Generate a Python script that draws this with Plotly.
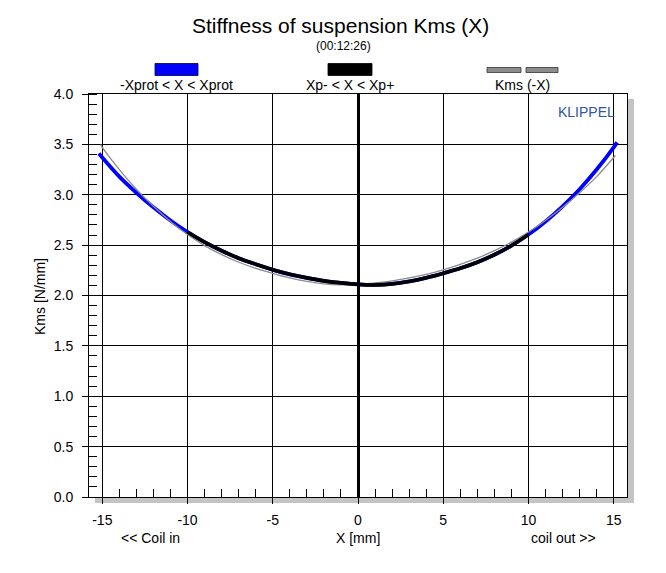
import plotly.graph_objects as go

# ---- data ----
x_blue = [-15.2, -15, -14, -13, -12, -11, -10, -9, -8, -7, -6, -5, -4, -3, -2, -1,
          0, 1, 2, 3, 4, 5, 6, 7, 8, 9, 10, 11, 12, 13, 14, 15, 15.2]
kms_blue = [3.41, 3.37, 3.18, 3.02, 2.875, 2.745, 2.63, 2.53, 2.445, 2.37, 2.31, 2.255,
            2.21, 2.175, 2.145, 2.125, 2.11, 2.105, 2.115, 2.14, 2.175, 2.22, 2.27, 2.33,
            2.405, 2.495, 2.605, 2.735, 2.885, 3.055, 3.25, 3.47, 3.52]

x_gray = [-15.1, -15, -14, -13, -12, -11, -10, -9, -8, -7, -6, -5, -4, -3, -2, -1,
          0, 1, 2, 3, 4, 5, 6, 7, 8, 9, 10, 11, 12, 13, 14, 15, 15.1]
kms_gray = [3.50, 3.47, 3.25, 3.055, 2.885, 2.735, 2.605, 2.495, 2.405, 2.33, 2.27, 2.22,
            2.175, 2.14, 2.115, 2.105, 2.11, 2.125, 2.145, 2.175, 2.21, 2.255, 2.31, 2.37,
            2.445, 2.53, 2.63, 2.745, 2.875, 3.02, 3.18, 3.37, 3.39]

xp_limit = 10.0  # Xp- .. Xp+

x_ticks = [-15, -10, -5, 0, 5, 10, 15]
y_ticks = [0.0, 0.5, 1.0, 1.5, 2.0, 2.5, 3.0, 3.5, 4.0]

title = "Stiffness of suspension Kms (X)"
subtitle = "(00:12:26)"
legend_labels = ["-Xprot < X < Xprot", "Xp- < X < Xp+", "Kms (-X)"]

# ---- figure ----
FONT = "Liberation Sans, Arial, sans-serif"
W, H = 666, 573
L, R, T, B = 89, 627, 94, 497  # plot area in pixels


def px(xp):
    return (xp - L) / (R - L)


def py(yp):
    return (B - yp) / (B - T)


x_black = [x for x in x_blue if abs(x) <= xp_limit]
k_black = [k for x, k in zip(x_blue, kms_blue) if abs(x) <= xp_limit]

fig = go.Figure()
fig.add_trace(go.Scatter(x=x_blue, y=kms_blue, mode="lines",
                         line=dict(color="#0000ff", width=3.8, shape="spline", smoothing=1.0),
                         showlegend=False))
fig.add_trace(go.Scatter(x=x_gray, y=kms_gray, mode="lines",
                         line=dict(color="#8c8c8c", width=1.3, shape="spline", smoothing=1.0),
                         showlegend=False))
fig.add_trace(go.Scatter(x=x_black, y=k_black, mode="lines",
                         line=dict(color="#000000", width=3.6, shape="spline", smoothing=1.0),
                         showlegend=False))

shapes = []
# drop shadow of the plot frame
shapes.append(dict(type="rect", xref="paper", yref="paper", layer="below",
                   x0=1.0, x1=px(634), y0=py(503), y1=py(99),
                   fillcolor="#c4c4c4", line=dict(width=0)))
shapes.append(dict(type="rect", xref="paper", yref="paper", layer="below",
                   x0=px(95), x1=px(634), y0=py(503), y1=0.0,
                   fillcolor="#c4c4c4", line=dict(width=0)))
# legend swatches
shapes.append(dict(type="rect", xref="paper", yref="paper",
                   x0=px(155), x1=px(198), y0=py(75.5), y1=py(63.5),
                   fillcolor="#0000ff", line=dict(color="#000040", width=0.8)))
shapes.append(dict(type="rect", xref="paper", yref="paper",
                   x0=px(328), x1=px(372), y0=py(75.5), y1=py(63.5),
                   fillcolor="#000000", line=dict(color="#000000", width=0.8)))
shapes.append(dict(type="rect", xref="paper", yref="paper",
                   x0=px(487), x1=px(521), y0=py(72.5), y1=py(67.5),
                   fillcolor="#8c8c8c", line=dict(color="#333333", width=0.8)))
shapes.append(dict(type="rect", xref="paper", yref="paper",
                   x0=px(526), x1=px(558), y0=py(72.5), y1=py(67.5),
                   fillcolor="#8c8c8c", line=dict(color="#333333", width=0.8)))


def note(text, xp, yp, size=14, color="black", xanchor="center", angle=0):
    return dict(text=text, x=px(xp), y=py(yp), xref="paper", yref="paper",
                showarrow=False, textangle=angle,
                font=dict(size=size, color=color, family=FONT),
                xanchor=xanchor, yanchor="middle")


annotations = [
    note(title, 340, 25, size=21),
    note(subtitle, 343, 46, size=12),
    note(legend_labels[0], 176, 85),
    note(legend_labels[1], 350, 85),
    note(legend_labels[2], 522, 85),
    note("KLIPPEL", 617, 112, size=14, color="#2f55a4", xanchor="right"),
    note("<< Coil in", 150, 538),
    note("coil out >>", 563, 538),
    note("X [mm]", 358, 538),
    note("Kms [N/mm]", 40, 297, angle=-90),
]

fig.update_layout(
    width=W, height=H,
    margin=dict(l=L, r=W - R, t=T, b=H - B, pad=0),
    paper_bgcolor="white", plot_bgcolor="white",
    font=dict(family=FONT, size=14, color="black"),
    shapes=shapes, annotations=annotations,
    showlegend=False,
)
fig.update_xaxes(
    range=[-15.78, 15.78], tickvals=x_ticks, ticktext=[str(v) for v in x_ticks],
    showgrid=True, gridcolor="black", gridwidth=1,
    zeroline=True, zerolinecolor="black", zerolinewidth=3,
    showline=True, linecolor="black", linewidth=1, mirror=True,
    ticks="outside", ticklen=6, tickcolor="black", tickwidth=1,
    ticklabelstandoff=4,
    tickfont=dict(size=14, family=FONT, color="black"),
    minor=dict(dtick=1, tick0=0, ticks="inside", ticklen=8, tickcolor="black",
               tickwidth=1, showgrid=False),
    fixedrange=True,
)
fig.update_yaxes(
    range=[0, 4.0], tickvals=y_ticks, ticktext=[f"{v:.1f}" for v in y_ticks],
    showgrid=True, gridcolor="black", gridwidth=1, zeroline=False,
    showline=True, linecolor="black", linewidth=1, mirror=True,
    ticks="outside", ticklen=6, tickcolor="black", tickwidth=1,
    ticklabelstandoff=6,
    tickfont=dict(size=14, family=FONT, color="black"),
    minor=dict(dtick=0.1, tick0=0, ticks="inside", ticklen=8, tickcolor="black",
               tickwidth=1, showgrid=False),
    fixedrange=True,
)

fig.write_html("out.html")
